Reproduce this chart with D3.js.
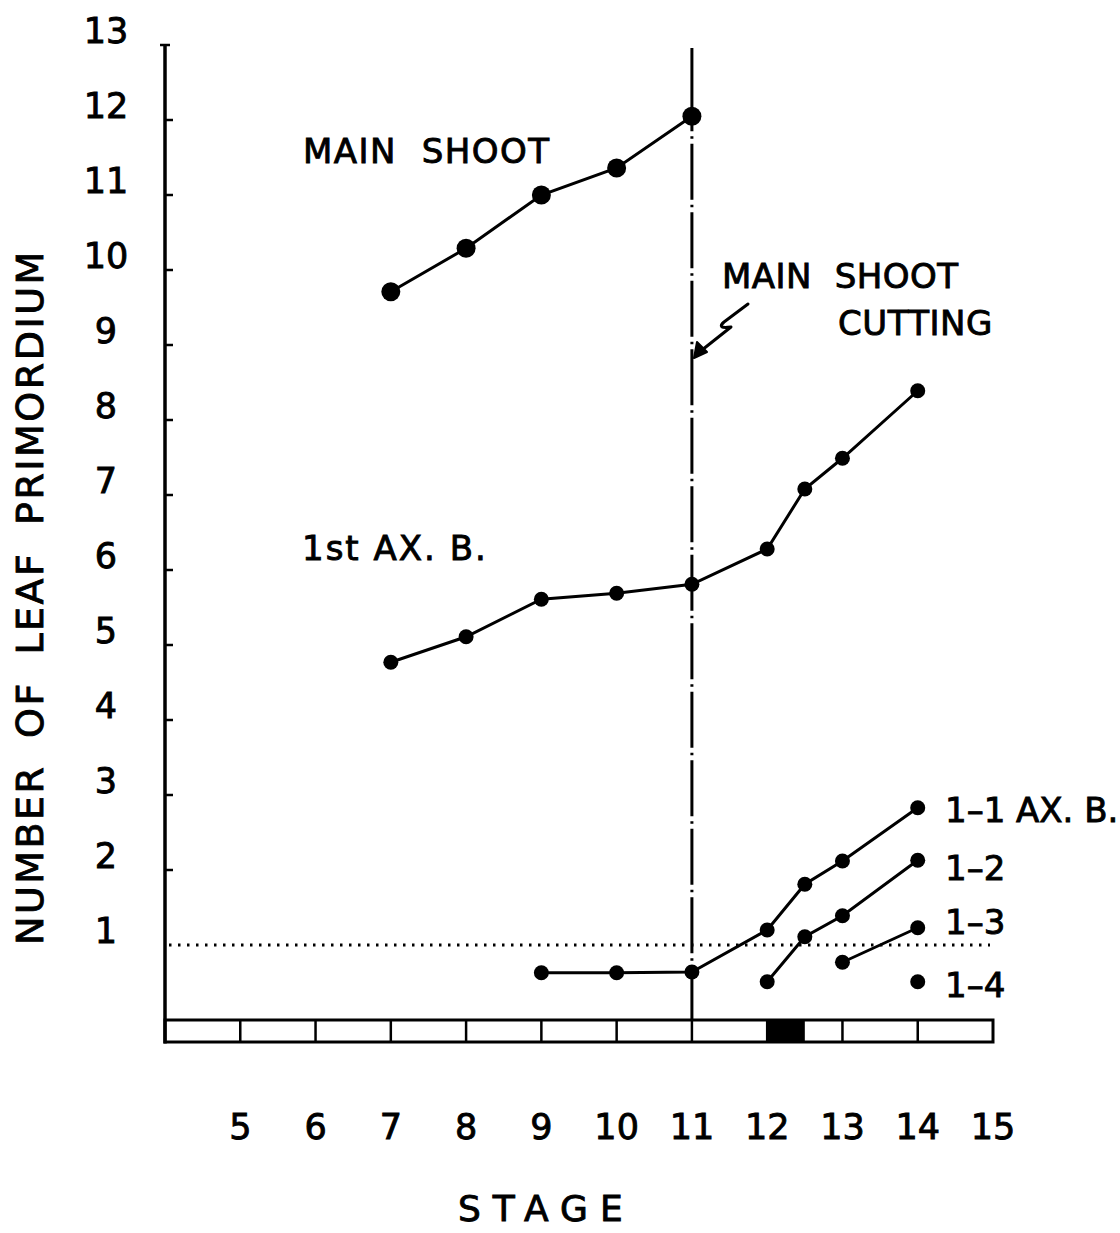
<!DOCTYPE html>
<html>
<head>
<meta charset="utf-8">
<script src="https://cdn.jsdelivr.net/npm/d3@7/dist/d3.min.js"></script>
<style>
  html, body { margin: 0; padding: 0; background: #fff; }
  svg { display: block; }
  text { font-family: "DejaVu Sans", sans-serif; fill: #000; stroke: #000; stroke-width: 0.9; white-space: pre; }
</style>
</head>
<body>
<svg id="chart" width="1120" height="1233"></svg>
<script>
// Leaf primordium counts per developmental stage
const stageTicks = [5, 6, 7, 8, 9, 10, 11, 12, 13, 14, 15];
const countTicks = [1, 2, 3, 4, 5, 6, 7, 8, 9, 10, 11, 12, 13];

const mainShootStage = [7, 8, 9, 10, 11];
const mainShootCount = [9.71, 10.29, 11.0, 11.36, 12.05];

const firstAxStage = [7, 8, 9, 10, 11, 12, 12.5, 13, 14];
const firstAxCount = [4.77, 5.11, 5.61, 5.69, 5.81, 6.28, 7.08, 7.49, 8.39];

const ax11Stage = [9, 10, 11, 12, 12.5, 13, 14];
const ax11Count = [0.63, 0.63, 0.64, 1.2, 1.81, 2.12, 2.83];

const ax12Stage = [12, 12.5, 13, 14];
const ax12Count = [0.51, 1.11, 1.39, 2.13];

const ax13Stage = [13, 14];
const ax13Count = [0.77, 1.23];

const ax14Stage = [14];
const ax14Count = [0.51];

const cuttingStage = 11;
const thresholdCount = 1;
const blackBand = [12, 12.5];

const svg = d3.select("#chart");

const x = d3.scaleLinear().domain([4, 15]).range([165, 993]);
const y = d3.scaleLinear().domain([0, 13]).range([1020, 45]);

const zip = (s, c) => s.map((d, i) => ({ s: d, c: c[i] }));
const line = d3.line().x(d => x(d.s)).y(d => y(d.c));

// stage strip along the bottom
const stripTop = y(0), stripBottom = y(0) + 22;
svg.append("rect")
  .attr("x", x(blackBand[0])).attr("y", stripTop)
  .attr("width", x(blackBand[1]) - x(blackBand[0])).attr("height", stripBottom - stripTop)
  .attr("fill", "#000");
svg.append("rect")
  .attr("x", x(4)).attr("y", stripTop)
  .attr("width", x(15) - x(4)).attr("height", stripBottom - stripTop)
  .attr("fill", "none").attr("stroke", "#000").attr("stroke-width", 3);
svg.selectAll("line.div").data(stageTicks.slice(0, -1)).enter().append("line")
  .attr("x1", d => x(d)).attr("x2", d => x(d))
  .attr("y1", stripTop).attr("y2", stripBottom)
  .attr("stroke", "#000").attr("stroke-width", 2.5);

// vertical axis
svg.append("line")
  .attr("x1", x(4)).attr("x2", x(4))
  .attr("y1", y(13)).attr("y2", stripBottom + 1.5)
  .attr("stroke", "#000").attr("stroke-width", 3.5);
svg.append("line")
  .attr("x1", x(4) - 5).attr("x2", x(4) + 5)
  .attr("y1", y(13)).attr("y2", y(13))
  .attr("stroke", "#000").attr("stroke-width", 2.5);
svg.selectAll("line.tick").data(countTicks.filter(d => d > 1 && d < 13)).enter().append("line")
  .attr("x1", x(4)).attr("x2", x(4) + 8)
  .attr("y1", d => y(d)).attr("y2", d => y(d))
  .attr("stroke", "#000").attr("stroke-width", 2.5);

svg.selectAll("text.ytick").data(countTicks).enter().append("text")
  .attr("x", 106).attr("y", d => y(d) - 2)
  .attr("text-anchor", "middle")
  .attr("font-size", 35)
  .text(d => d);

svg.selectAll("text.xtick").data(stageTicks).enter().append("text")
  .attr("x", d => x(d)).attr("y", 1139)
  .attr("text-anchor", "middle")
  .attr("font-size", 35)
  .text(d => d);

svg.append("text")
  .attr("x", 458).attr("y", 1221)
  .attr("font-size", 36)
  .attr("letter-spacing", 12)
  .text("STAGE");

svg.append("text")
  .attr("transform", "translate(43,945) rotate(-90)")
  .attr("font-size", 38)
  .attr("letter-spacing", 2.5)
  .attr("word-spacing", 12)
  .text("NUMBER OF LEAF PRIMORDIUM");

// threshold at one primordium
svg.append("line")
  .attr("x1", x(4) + 4).attr("x2", 990)
  .attr("y1", y(thresholdCount)).attr("y2", y(thresholdCount))
  .attr("stroke", "#000").attr("stroke-width", 3)
  .attr("stroke-dasharray", "2.5,6.5");

// main shoot cutting marker
const cutX = x(cuttingStage);
const topMain = y(mainShootCount[mainShootCount.length - 1]);
const lowAx = y(ax11Count[ax11Stage.indexOf(cuttingStage)]);
svg.append("line")
  .attr("x1", cutX).attr("x2", cutX).attr("y1", 48).attr("y2", topMain)
  .attr("stroke", "#000").attr("stroke-width", 3);
svg.append("line")
  .attr("x1", cutX).attr("x2", cutX).attr("y1", topMain).attr("y2", lowAx)
  .attr("stroke", "#000").attr("stroke-width", 3)
  .attr("stroke-dasharray", "56,5,2.5,5")
  .attr("stroke-dashoffset", 41);
svg.append("line")
  .attr("x1", cutX).attr("x2", cutX).attr("y1", lowAx).attr("y2", y(0))
  .attr("stroke", "#000").attr("stroke-width", 3);

// lightning-style pointer to the cut
svg.append("path")
  .attr("d", "M748,304 L724,322 Q716,329 731,327 L702,350")
  .attr("fill", "none").attr("stroke", "#000").attr("stroke-width", 3)
  .attr("stroke-linejoin", "round").attr("stroke-linecap", "round");
svg.append("path")
  .attr("d", "M694,358 L697,342 L707,352 Z")
  .attr("fill", "#000").attr("stroke", "#000").attr("stroke-width", 2)
  .attr("stroke-linejoin", "round");

// series
const series = [
  { data: zip(mainShootStage, mainShootCount), r: 9.5 },
  { data: zip(firstAxStage, firstAxCount), r: 7.5 },
  { data: zip(ax11Stage, ax11Count), r: 7.5 },
  { data: zip(ax12Stage, ax12Count), r: 7.5 },
  { data: zip(ax13Stage, ax13Count), r: 7.5 },
  { data: zip(ax14Stage, ax14Count), r: 7.5 }
];
series.forEach(sr => {
  if (sr.data.length > 1) {
    svg.append("path").datum(sr.data)
      .attr("d", line)
      .attr("fill", "none").attr("stroke", "#000").attr("stroke-width", 3);
  }
  svg.selectAll(null).data(sr.data).enter().append("circle")
    .attr("cx", d => x(d.s)).attr("cy", d => y(d.c)).attr("r", sr.r)
    .attr("fill", "#000");
});

// annotations
const labels = [
  { t: "MAIN  SHOOT", x: 303, y: 163, ls: 1.5 },
  { t: "MAIN  SHOOT", x: 722, y: 288, ls: 0.5 },
  { t: "CUTTING", x: 838, y: 335, ls: 0.5 },
  { t: "1st AX. B.", x: 302, y: 560, ls: 2 },
  { t: "1–1 AX. B.", x: 945, y: 822, ls: 0 },
  { t: "1–2", x: 945, y: 880, ls: 0 },
  { t: "1–3", x: 945, y: 934, ls: 0 },
  { t: "1–4", x: 945, y: 997, ls: 0 }
];
svg.selectAll("text.ann").data(labels).enter().append("text")
  .attr("x", d => d.x).attr("y", d => d.y)
  .attr("font-size", 34)
  .attr("letter-spacing", d => d.ls)
  .text(d => d.t);
</script>
</body>
</html>
